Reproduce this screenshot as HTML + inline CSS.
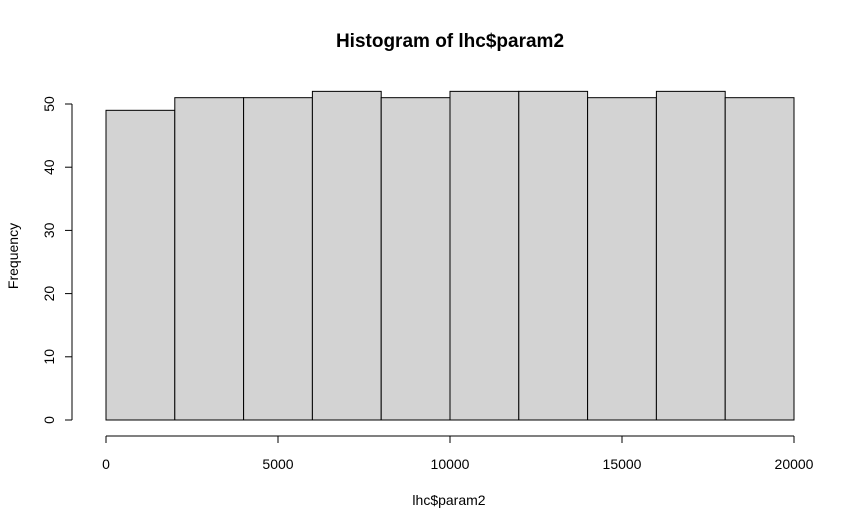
<!DOCTYPE html>
<html><head><meta charset="utf-8"><style>
body{margin:0;background:#fff;}
svg{display:block;font-family:"Liberation Sans",Arial,sans-serif;}
</style></head><body>
<svg id="chart" width="862" height="532" viewBox="0 0 862 532">
<text x="450" y="47" text-anchor="middle" font-size="19" font-weight="bold">Histogram of lhc$param2</text>
<text x="449" y="505" text-anchor="middle" font-size="14">lhc$param2</text>
<text transform="translate(18,256) rotate(-90)" text-anchor="middle" font-size="14">Frequency</text>
<g id="bars"></g>
<g id="xaxis"></g>
<g id="yaxis"></g>
</svg>
<script>
const binEdges = [0,2000,4000,6000,8000,10000,12000,14000,16000,18000,20000];
const counts = [49,51,51,52,51,52,52,51,52,51];
const xTicks = [0,5000,10000,15000,20000];
const yTicks = [0,10,20,30,40,50];
const NS="http://www.w3.org/2000/svg";
const xs=v=>106+(v/20000)*688;
const ys=v=>420-v*6.32;
function mk(t,a,p){const e=document.createElementNS(NS,t);for(const k in a)e.setAttribute(k,a[k]);p.appendChild(e);return e;}
const bars=document.getElementById('bars');
counts.forEach((c,i)=>{
 const r=mk('rect',{x:xs(binEdges[i]),y:ys(c),width:xs(binEdges[i+1])-xs(binEdges[i]),height:ys(0)-ys(c),fill:'#d3d3d3',stroke:'#000','stroke-width':1},bars);
 
 
});
const xa=document.getElementById('xaxis');
mk('line',{x1:xs(xTicks[0]),x2:xs(xTicks[xTicks.length-1]),y1:436,y2:436,stroke:'#000'},xa);
xTicks.forEach(t=>{
 mk('line',{x1:xs(t),x2:xs(t),y1:436,y2:443,stroke:'#000'},xa);
 const tx=mk('text',{x:xs(t),y:469,'text-anchor':'middle','font-size':14},xa);
 tx.textContent=t;
 
 
});
const ya=document.getElementById('yaxis');
mk('line',{x1:72,x2:72,y1:ys(yTicks[0]),y2:ys(yTicks[yTicks.length-1]),stroke:'#000'},ya);
yTicks.forEach(t=>{
 mk('line',{x1:65,x2:72,y1:ys(t),y2:ys(t),stroke:'#000'},ya);
 const tx=mk('text',{transform:`translate(54,${ys(t)}) rotate(-90)`,'text-anchor':'middle','font-size':14},ya);
 tx.textContent=t;
 
 
});
</script>
</body></html>
